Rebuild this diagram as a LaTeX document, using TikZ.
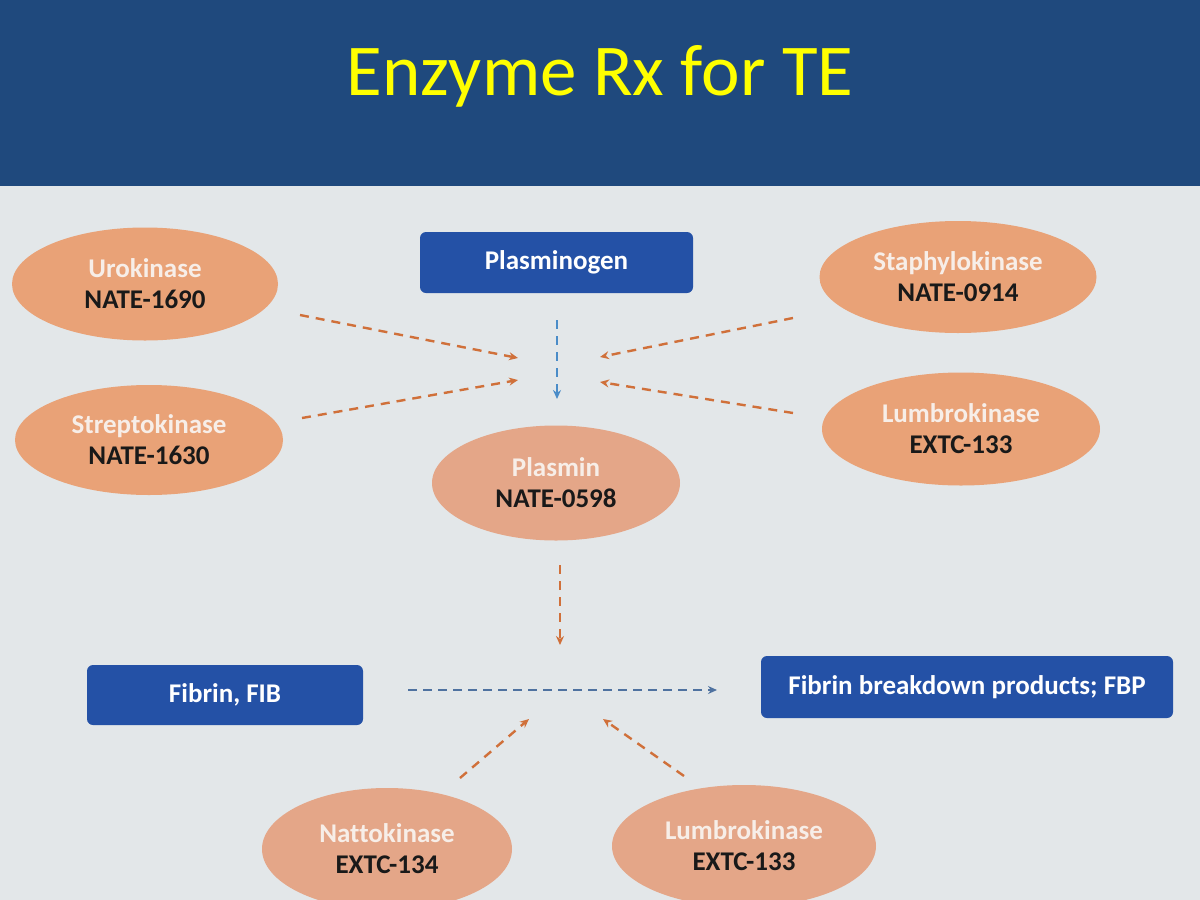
\documentclass[tikz,border=0pt]{standalone}
\usepackage{fontspec}
\setmainfont[Ligatures=NoCommon]{Carlito}
\usetikzlibrary{arrows.meta,shapes.geometric}
\definecolor{banner}{HTML}{1F497D}
\definecolor{paper}{HTML}{E3E7E9}
\definecolor{peach}{HTML}{E9A277}
\definecolor{peachlight}{HTML}{E4A688}
\definecolor{boxblue}{HTML}{2451A6}
\definecolor{arrorange}{HTML}{D0703A}
\definecolor{arrblue}{HTML}{4A8CC8}
\definecolor{arrslate}{HTML}{4F72A0}
\definecolor{titleyellow}{HTML}{FFFF00}
\definecolor{lighttext}{HTML}{F7EEE8}
\tikzset{
  enz/.style={ellipse, fill=peach, inner sep=0pt, align=center,
    font=\fontsize{27}{31}\selectfont\bfseries, text=black!90},
  bluebox/.style={rectangle, rounded corners=6pt, fill=boxblue, inner sep=0pt,
    align=center, font=\fontsize{27}{31}\selectfont\bfseries, text=white},
  orarrow/.style={draw=arrorange, line width=2.4pt, dash pattern=on 9pt off 7pt,
    -{Stealth[length=9pt,width=8pt]}},
  bluearrow/.style={draw=arrblue, line width=2.2pt, dash pattern=on 9pt off 7pt,
    -{Stealth[length=9pt,width=8pt]}},
  slatearrow/.style={draw=arrslate, line width=2.4pt, dash pattern=on 9pt off 6pt,
    -{Stealth[length=9pt,width=8pt]}}
}
\begin{document}
\begin{tikzpicture}[x=1pt,y=-1pt]
\useasboundingbox (0,0) rectangle (1200,900);
\fill[paper] (0,0) rectangle (1200,900);
\fill[banner] (0,0) rectangle (1200,186);
\node[anchor=base, text=titleyellow, font=\fontsize{73}{80}\selectfont, inner sep=0pt]
  (title) at (600,95) {Enzyme Rx for TE};

% ellipses
\node[enz, minimum width=266pt, minimum height=113pt] (uro) at (145,284)
  {{\color{lighttext}Urokinase}\\NATE-1690};
\node[enz, minimum width=268pt, minimum height=110pt] (strep) at (149,440)
  {{\color{lighttext}Streptokinase}\\NATE-1630};
\node[enz, minimum width=277pt, minimum height=112pt] (staph) at (958,277)
  {{\color{lighttext}Staphylokinase}\\NATE-0914};
\node[enz, minimum width=278pt, minimum height=113pt] (lumbroR) at (961,429)
  {{\color{lighttext}Lumbrokinase}\\EXTC-133};
\node[enz, fill=peachlight, minimum width=248pt, minimum height=115pt] (plasmin) at (556,483)
  {{\color{lighttext}Plasmin}\\NATE-0598};
\node[enz, fill=peachlight, minimum width=250pt, minimum height=122pt] (natto) at (387,849)
  {{\color{lighttext}Nattokinase}\\EXTC-134};
\node[enz, fill=peachlight, minimum width=264pt, minimum height=122pt] (lumbroB) at (744,846)
  {{\color{lighttext}Lumbrokinase}\\EXTC-133};

% boxes
\node[bluebox, minimum width=273pt, minimum height=61pt] (plg) at (556.5,262.5) {Plasminogen};
\node[bluebox, minimum width=276pt, minimum height=60pt] (fib) at (225,695) {Fibrin, FIB};
\node[bluebox, minimum width=412pt, minimum height=62pt] (fbp) at (967,687) {Fibrin breakdown products; FBP};

% connector end points
\coordinate (uroS) at (300,315);   \coordinate (uroE) at (518,358);
\coordinate (strepS) at (302,418); \coordinate (strepE) at (518,380);
\coordinate (staphS) at (793,318); \coordinate (staphE) at (600,357);
\coordinate (lumS) at (793,413);   \coordinate (lumE) at (600,382);
\coordinate (plgS) at (557,320);   \coordinate (plgE) at (557,399);
\coordinate (pmS) at (560,565);    \coordinate (pmE) at (560,645);
\coordinate (fibS) at (408,690);   \coordinate (fibE) at (717,690);
\coordinate (natS) at (460,778);   \coordinate (natE) at (529,719);
\coordinate (lbS) at (684,776);    \coordinate (lbE) at (603,719);

\draw[orarrow] (uroS) -- (uroE);
\draw[orarrow] (strepS) -- (strepE);
\draw[orarrow] (staphS) -- (staphE);
\draw[orarrow] (lumS) -- (lumE);
\draw[bluearrow] (plgS) -- (plgE);
\draw[orarrow] (pmS) -- (pmE);
\draw[slatearrow] (fibS) -- (fibE);
\draw[orarrow] (natS) -- (natE);
\draw[orarrow] (lbS) -- (lbE);
\end{tikzpicture}
\end{document}
